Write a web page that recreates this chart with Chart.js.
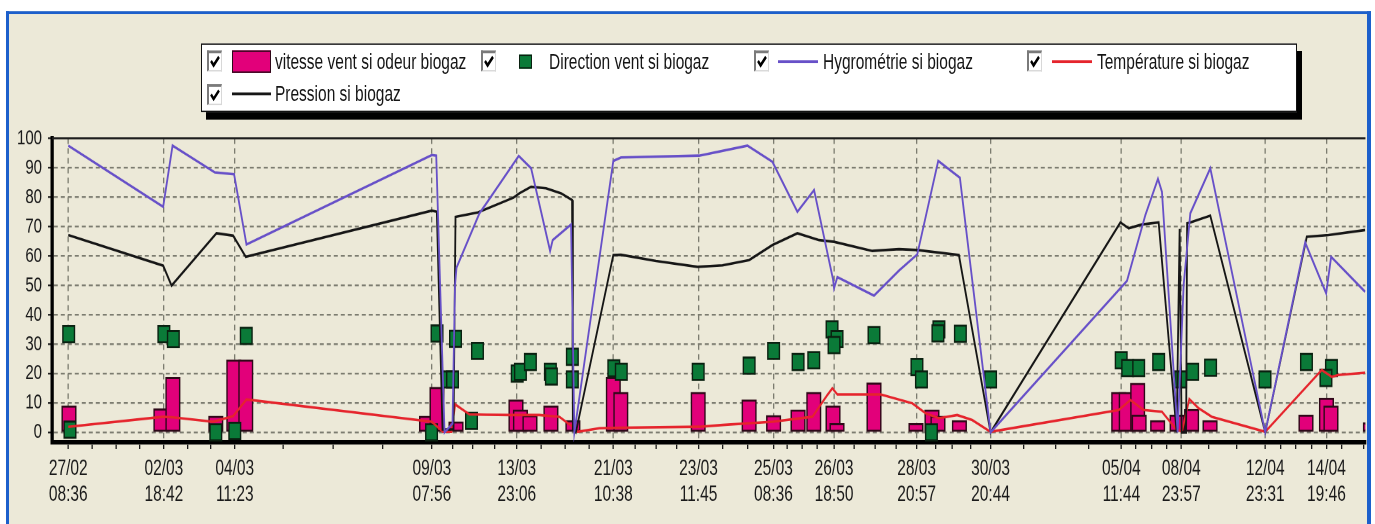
<!DOCTYPE html>
<html>
<head>
<meta charset="utf-8">
<script src="https://cdn.jsdelivr.net/npm/chart.js@4.4.1/dist/chart.umd.min.js"></script>
<style>
  html, body { margin:0; padding:0; background:#ffffff; width:1375px; height:524px; overflow:hidden; }
  #stage { position:absolute; left:0; top:0; width:1375px; height:374px; transform:scale(1,1.4011); transform-origin:0 0; }
  #frame { position:absolute; left:6px; top:8px; width:1358px; height:420px; background:#ECE9D8;
           border-left:3px solid #1C5FCB; border-top:2px solid #1C5FCB; border-right:4px solid #1C5FCB; }
  #chartbox { position:absolute; left:0; top:0; width:1375px; height:374px; }
  #legend { position:absolute; left:201px; top:31.4px; width:1094px; height:46.6px; background:#fff;
            border:1px solid #111; box-shadow:5px 5.4px 0 #000; }
  #legend .cb { position:absolute; width:12px; height:12px; background:#fff; box-sizing:content-box;
                border-style:solid; border-width:2px 1px 1px 2px; border-color:#7a7a7a #d8d8d8 #d8d8d8 #7a7a7a; }
  #legend .cb svg { position:absolute; left:0; top:0; }
  #legend .txt { position:absolute; font-family:"Liberation Sans", Arial, sans-serif; font-size:15.5px;
                 line-height:18px; color:#151515; white-space:nowrap; }
  #legend .sw { position:absolute; }
</style>
</head>
<body>
<div id="stage">
  <div id="frame"></div>
  <div id="chartbox"><canvas id="c"></canvas></div>
  <div id="legend"></div>
</div>
<script>
// ---------------- DATA ----------------
const seriesNames = ['vitesse vent si odeur biogaz', 'Direction vent si biogaz',
                     'Hygrométrie si biogaz', 'Température si biogaz', 'Pression si biogaz'];

// x axis: position of each record along the record axis (0 .. 1315)
const xMin = 0, xMax = 1315;
const xTickPositions = [16.3, 112, 183, 380.3, 465.3, 562, 647.3, 722.3, 783, 865.7, 939.7, 1070.7, 1130.7, 1214.7, 1276];
const xTickDates = ['27/02','02/03','04/03','09/03','13/03','21/03','23/03','25/03','26/03','28/03','30/03','05/04','08/04','12/04','14/04'];
const xTickTimes = ['08:36','18:42','11:23','07:56','23:06','10:38','11:45','08:36','18:50','20:57','20:44','11:44','23:57','23:31','19:46'];
const xMinorTicks = [40.3, 64, 88, 136, 159, 231.3, 281.3, 331.3, 401.3, 421.3, 443, 489.7, 514, 538, 584, 604.7, 625.3,
                     671.3, 696.3, 736, 751, 766, 803, 824, 845, 884.7, 901.3, 919.7, 973, 1005, 1038, 1085, 1101, 1116,
                     1158, 1186, 1230, 1245, 1261, 1291, 1313];

const yMin = -3.3, yMax = 100;
const yTickValues = [0, 10, 20, 30, 40, 50, 60, 70, 80, 90, 100];

// vitesse vent si odeur biogaz (bars)
const speedX   = [17, 109, 121, 164, 182, 194, 375, 385.5, 404.5, 464.5, 469, 478.5, 499.5, 521.5, 562, 569.5, 647, 698,
                  722.5, 747, 762.7, 782, 786, 823, 865, 881, 887, 908.5, 1068, 1075.5, 1087, 1088.5, 1107, 1126.5,
                  1141, 1159.5, 1255.5, 1276, 1280.5, 1320];
const speedVal = [9, 8, 18.7, 5.5, 24.6, 24.6, 5.5, 15.3, 3.6, 11, 7.6, 5.7, 9, 4, 18.7, 13.6, 13.6, 11,
                  5.7, 7.6, 13.6, 9, 3, 16.8, 3, 7.6, 5.5, 4, 13.6, 13.6, 16.7, 5.9, 4, 5.9,
                  7.8, 4, 5.9, 11.6, 9, 3.3];

// Direction vent si biogaz (squares)
const dirX   = [16.7, 18, 112, 121.5, 164, 183, 194.5, 380, 385.5, 396, 401, 404, 420, 426, 465.8, 469, 479, 499, 500,
                521, 521, 562.5, 570, 647, 698, 722.5, 747, 762.7, 781, 786, 783, 823, 866, 870.5, 880.5, 888, 887,
                909.5, 939.7, 1070.5, 1077, 1088, 1108, 1130, 1142, 1160, 1214.5, 1256, 1281, 1275.5];
const dirVal = [33.4, 0.9, 33.4, 31.7, 0, 0.5, 32.8, 0, 33.6, 18, 18, 31.8, 3.9, 27.7, 20, 20.6, 23.9, 20.6, 19,
                25.7, 18, 21.8, 20.6, 20.6, 22.7, 27.7, 23.9, 24.5, 35, 31.7, 29.7, 33.1, 22.2, 18, 0, 35, 33.7,
                33.5, 18, 24.5, 21.9, 21.9, 23.9, 18, 20.6, 22, 18, 23.9, 21.9, 18.5];

// Hygrométrie si biogaz
const humX   = [16.3, 111.3, 120.7, 163, 182.3, 194.7, 380.3, 384.7, 393, 401, 403.5, 405, 428, 436, 467.3, 479.7, 498.7,
                501.3, 519.7, 523, 562, 569.7, 648, 696.3, 721.3, 746.3, 763, 782, 783, 786.3, 823, 848, 866.3, 887.3,
                909, 939.7, 1076.3, 1094.7, 1107.3, 1111.3, 1127, 1133, 1139.7, 1159.7, 1214.7, 1254.7, 1275.7, 1280.7, 1314.7];
const humVal = [97.5, 76.7, 97.5, 88.4, 87.8, 63.9, 94.3, 94.1, 0, 3, 50, 56, 74.5, 78.4, 94, 89.8, 61.7,
                65.4, 70.7, 0, 92.3, 93.5, 94.1, 97.5, 92, 75, 82.4, 52, 49, 52.8, 46.5, 55, 60.5, 92.3,
                86.6, 0, 51.5, 73.9, 86.2, 81.8, 0, 50, 74.5, 89.8, 0, 64.6, 47.3, 59.7, 47.8];

// Température si biogaz
const tempX   = [16.3, 111.3, 121.3, 161.3, 181.3, 194.7, 380.3, 391.3, 400, 403.7, 418, 434.7, 458, 488, 508, 521.3,
                 526.3, 548, 568, 648, 671.3, 721.3, 761.3, 776.3, 781.3, 786.3, 829.7, 861.3, 874.7, 888, 906.3,
                 921.3, 939.7, 1068, 1079.7, 1093, 1111.3, 1124.7, 1131.3, 1138.7, 1148, 1161.3, 1214.7, 1271.3,
                 1281.3, 1288, 1314.7];
const tempVal = [1.9, 5.3, 5.1, 3.6, 5.5, 11.2, 3.6, 0.2, 0.2, 9.5, 6.1, 6, 5.9, 5.9, 5.3, 1.9,
                 0.2, 1.4, 1.6, 1.9, 2.5, 3.6, 5.3, 12.7, 15, 12.9, 12.9, 9.9, 6.5, 4.8, 5.9,
                 4.2, 0.2, 7.6, 11, 7.6, 7, 1.4, 0.2, 11.3, 8.2, 5.3, 0.2, 21.2,
                 18.9, 19.5, 20.3];

// Pression si biogaz
const presX   = [16.3, 111.3, 119.7, 164.7, 181.3, 194, 380.3, 385.3, 391, 402, 404, 426.3, 462, 468, 479.7, 494.7,
                 509.7, 520.7, 521.5, 524.5, 562, 569.7, 604.7, 646.3, 671.3, 698, 721.3, 746.3, 768, 783, 821.3,
                 848, 866.3, 908, 939.7, 1069.7, 1078, 1091.3, 1108, 1126, 1129, 1131, 1135.5, 1136.5, 1139.7,
                 1159.7, 1214.7, 1256.3, 1278, 1314.7];
const presVal = [67.1, 56.7, 49.9, 67.7, 66.9, 59.7, 75.4, 75, 1, 1, 73.3, 74.8, 79.8, 81.3, 83.5, 83,
                 81.3, 79, 1, 0, 60.3, 60.4, 58.3, 56.3, 56.8, 58.6, 63.7, 67.7, 65.4, 64.8, 61.7,
                 62.3, 62, 60.3, 0, 71.4, 69.4, 70.7, 71.4, 0, 69.2, 0, 0, 71.1, 71.4,
                 73.7, 0, 66.5, 67.1, 68.8];

// ---------------- STYLES ----------------
const C_PINK = '#E2007A', C_PINK_BORDER = '#2e0818';
const C_GREEN = '#0A7A38', C_GREEN_BORDER = '#0a2010';
const C_HUM = '#6750C8', C_TEMP = '#E5242C', C_PRES = '#161616';
const C_GRID = '#7c7c70';
const FONT = '"Liberation Sans", Arial, sans-serif';

const pts = (xs, ys) => xs.map((x, i) => ({ x: x, y: ys[i] }));
const near = (a, b) => Math.abs(a - b) < 0.01;
const majorIndex = v => xTickPositions.findIndex(p => near(p, v));
const allXTicks = xTickPositions.concat(xMinorTicks).sort((a, b) => a - b);

const framePlugin = {
  id: 'frameTop',
  afterDraw(chart) {
    const { ctx, chartArea } = chart;
    ctx.save();
    ctx.strokeStyle = '#1e1e1e';
    ctx.lineWidth = 1.5;
    ctx.beginPath();
    ctx.moveTo(chartArea.left, chartArea.top);
    ctx.lineTo(chartArea.right, chartArea.top);
    ctx.stroke();
    ctx.restore();
  }
};

new Chart(document.getElementById('c'), {
  type: 'bar',
  data: {
    datasets: [
      { type: 'line', label: seriesNames[2], data: pts(humX, humVal), borderColor: C_HUM, borderWidth: 1.8,
        pointRadius: 0, tension: 0, fill: false, order: 0 },
      { type: 'line', label: seriesNames[4], data: pts(presX, presVal), borderColor: C_PRES, borderWidth: 1.8,
        pointRadius: 0, tension: 0, fill: false, order: 0 },
      { type: 'line', label: seriesNames[3], data: pts(tempX, tempVal), borderColor: C_TEMP, borderWidth: 1.8,
        pointRadius: 0, tension: 0, fill: false, order: 0 },
      { type: 'line', label: seriesNames[1], data: pts(dirX, dirVal), showLine: false, pointStyle: 'rect',
        pointRadius: 8.2, pointBackgroundColor: C_GREEN, pointBorderColor: C_GREEN_BORDER, pointBorderWidth: 1.4,
        order: 1 },
      { type: 'bar', label: seriesNames[0], data: pts(speedX, speedVal), backgroundColor: C_PINK,
        borderColor: C_PINK_BORDER, borderWidth: 1.5, borderSkipped: false, barThickness: 14.5, order: 2 }
    ]
  },
  options: {
    responsive: true,
    maintainAspectRatio: false,
    animation: false,
    devicePixelRatio: 2,
    events: [],
    layout: { padding: { top: 98.7, right: 8, left: 0, bottom: 0 } },
    plugins: { legend: { display: false }, tooltip: { enabled: false } },
    scales: {
      x: {
        type: 'linear', min: xMin, max: xMax, offset: false,
        afterBuildTicks: s => { s.ticks = allXTicks.map(v => ({ value: v })); },
        afterFit: s => { s.height = 58.5; },
        ticks: {
          autoSkip: false, maxRotation: 0, minRotation: 0, padding: 5, color: '#1a1a1a',
          font: { family: FONT, size: 15.5, lineHeight: 1.2 },
          callback: v => { const i = majorIndex(v); return i >= 0 ? [xTickDates[i], xTickTimes[i]] : ''; }
        },
        grid: {
          offset: false,
          color: c => (c.tick && majorIndex(c.tick.value) >= 0) ? C_GRID : 'rgba(0,0,0,0)',
          lineWidth: 1.3, drawTicks: true, tickLength: 5, tickColor: '#1a1a1a', tickWidth: 1.3, tickBorderDash: []
        },
        border: { display: true, color: '#000', width: 3.3, dash: [4, 3] }
      },
      y: {
        min: yMin, max: yMax,
        afterBuildTicks: s => { s.ticks = yTickValues.map(v => ({ value: v })); },
        afterFit: s => { s.width = 52; },
        ticks: { padding: 6, color: '#1a1a1a', font: { family: FONT, size: 15 }, callback: v => String(v) },
        grid: { color: C_GRID, lineWidth: 1.3, drawTicks: true, tickLength: 4, tickColor: '#1a1a1a',
                tickWidth: 1.2, tickBorderDash: [] },
        border: { display: true, color: '#000', width: 3.3, dash: [4, 3] }
      }
    }
  },
  plugins: [framePlugin]
});

// ---------------- HTML legend ----------------
(function buildLegend() {
  const lg = document.getElementById('legend');
  const check = '<svg width="12" height="12" viewBox="0 0 12 12"><polyline points="2,5.5 4.6,8.6 10,2.6" fill="none" stroke="#000" stroke-width="2.2"/></svg>';
  function cb(left, top) {
    const d = document.createElement('div'); d.className = 'cb';
    d.style.left = left + 'px'; d.style.top = top + 'px'; d.innerHTML = check; lg.appendChild(d);
  }
  function sw(left, top, w, h, bg, border) {
    const d = document.createElement('div'); d.className = 'sw';
    d.style.left = left + 'px'; d.style.top = top + 'px'; d.style.width = w + 'px'; d.style.height = h + 'px';
    d.style.background = bg; if (border) { d.style.boxSizing = 'border-box'; d.style.border = '1px solid ' + border; }
    lg.appendChild(d);
  }
  function txt(left, centerY, s) {
    const d = document.createElement('div'); d.className = 'txt';
    d.style.left = left + 'px'; d.style.top = (centerY - 9) + 'px'; d.textContent = s; lg.appendChild(d);
  }
  const r1 = 11.6, r2 = 34.7;
  // row 1
  cb(5, r1 - 7.5);  sw(30, r1 - 8.2, 39, 16.4, C_PINK, C_PINK_BORDER); txt(73, r1, seriesNames[0]);
  cb(279, r1 - 7.5); sw(317, r1 - 5.4, 13, 10.8, C_GREEN, C_GREEN_BORDER); txt(347, r1, seriesNames[1]);
  cb(552, r1 - 7.5); sw(576, r1 - 0.7, 40, 1.5, C_HUM); txt(621, r1, seriesNames[2]);
  cb(825, r1 - 7.5); sw(850, r1 - 0.7, 40, 1.5, C_TEMP); txt(895, r1, seriesNames[3]);
  // row 2
  cb(5, r2 - 7.5);  sw(30, r2 - 0.7, 39, 1.5, C_PRES); txt(73, r2, seriesNames[4]);
})();
</script>
</body>
</html>
